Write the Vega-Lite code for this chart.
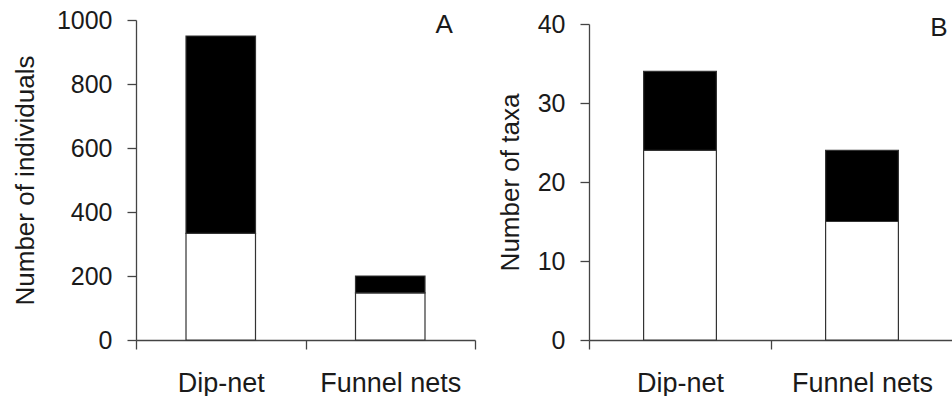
{
  "$schema": "https://vega.github.io/schema/vega-lite/v6.json",
  "padding": {"left": 12, "top": 8, "right": 0, "bottom": 0},
  "spacing": 21,
  "config": {
    "font": "Liberation Sans",
    "view": {"stroke": null},
    "axis": {
      "grid": false,
      "domainColor": "#444444",
      "tickColor": "#444444",
      "domainWidth": 1.3,
      "tickWidth": 1.3,
      "labelFont": "Liberation Sans",
      "labelFontSize": 25,
      "labelColor": "#1a1a1a",
      "titleFont": "Liberation Sans",
      "titleFontSize": 26,
      "titleFontWeight": "normal",
      "titleColor": "#1a1a1a"
    },
    "axisX": {"labelAngle": 0, "tickBand": "extent", "tickSize": 9, "labelPadding": 21, "labelFontSize": 27, "title": null},
    "axisY": {"format": "d", "tickSize": 9, "labelPadding": 15}
  },
  "datasets": {
    "individuals": [
      {"method": "Dip-net", "segment": "lower", "value": 333},
      {"method": "Dip-net", "segment": "upper", "value": 617},
      {"method": "Funnel nets", "segment": "lower", "value": 147},
      {"method": "Funnel nets", "segment": "upper", "value": 53}
    ],
    "taxa": [
      {"method": "Dip-net", "segment": "lower", "value": 24},
      {"method": "Dip-net", "segment": "upper", "value": 10},
      {"method": "Funnel nets", "segment": "lower", "value": 15},
      {"method": "Funnel nets", "segment": "upper", "value": 9}
    ]
  },
  "hconcat": [
    {
      "width": 339,
      "height": 320,
      "layer": [
        {
          "data": {"name": "individuals"},
          "mark": {"type": "bar", "width": {"band": 0.41}, "stroke": "#333333", "strokeWidth": 1.2},
          "encoding": {
            "x": {"field": "method", "type": "nominal", "sort": null, "scale": {"paddingInner": 0, "paddingOuter": 0}},
            "y": {"field": "value", "type": "quantitative", "stack": "zero", "scale": {"domain": [0, 1000]},
                  "axis": {"title": "Number of individuals", "values": [0, 200, 400, 600, 800, 1000], "titlePadding": 18}},
            "color": {"field": "segment", "type": "nominal", "scale": {"domain": ["lower", "upper"], "range": ["#ffffff", "#000000"]}, "legend": null},
            "order": {"field": "segment", "sort": "ascending"}
          }
        },
        {
          "data": {"values": [{"method": "Funnel nets", "value": 1000, "panel": "A"}]},
          "mark": {"type": "text", "dx": 54, "dy": 5, "fontSize": 26, "baseline": "middle", "color": "#1a1a1a"},
          "encoding": {
            "x": {"field": "method", "type": "nominal", "sort": null},
            "y": {"field": "value", "type": "quantitative"},
            "text": {"field": "panel"}
          }
        }
      ]
    },
    {
      "width": 364,
      "height": 320,
      "layer": [
        {
          "data": {"name": "taxa"},
          "mark": {"type": "bar", "width": {"band": 0.4}, "stroke": "#333333", "strokeWidth": 1.2},
          "encoding": {
            "x": {"field": "method", "type": "nominal", "sort": null, "scale": {"paddingInner": 0, "paddingOuter": 0}},
            "y": {"field": "value", "type": "quantitative", "stack": "zero", "scale": {"domain": [0, 40], "range": [320, 4]},
                  "axis": {"title": "Number of taxa", "values": [0, 10, 20, 30, 40], "titlePadding": 14}},
            "color": {"field": "segment", "type": "nominal", "scale": {"domain": ["lower", "upper"], "range": ["#ffffff", "#000000"]}, "legend": null},
            "order": {"field": "segment", "sort": "ascending"}
          }
        },
        {
          "data": {"values": [{"method": "Funnel nets", "value": 40, "panel": "B"}]},
          "mark": {"type": "text", "dx": 77, "dy": 4, "fontSize": 26, "baseline": "middle", "color": "#1a1a1a"},
          "encoding": {
            "x": {"field": "method", "type": "nominal", "sort": null},
            "y": {"field": "value", "type": "quantitative"},
            "text": {"field": "panel"}
          }
        }
      ]
    }
  ]
}
